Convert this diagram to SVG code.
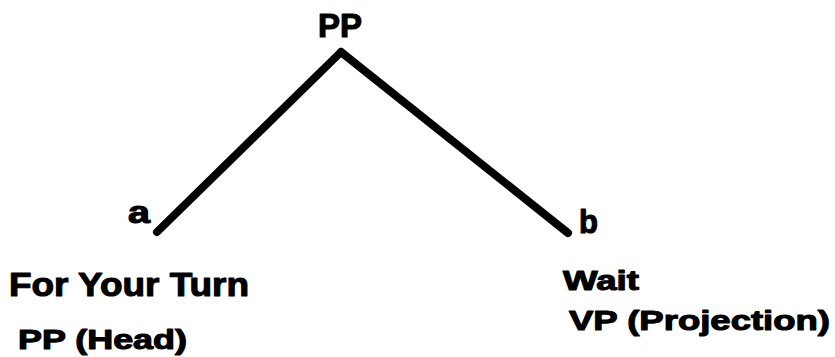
<svg xmlns="http://www.w3.org/2000/svg" width="835" height="357" viewBox="0 0 835 357">
<style>
text{font-family:"Liberation Sans",Arial,sans-serif;font-weight:bold;fill:#000;stroke:#000;stroke-width:1.1;stroke-linejoin:round}
.edge{stroke:#000;stroke-width:8;stroke-linecap:round;fill:none}
</style>
<rect width="835" height="357" fill="#fff"/>
<g id="connectors">
<line class="edge" x1="341" y1="52" x2="157" y2="232"/>
<line class="edge" x1="341" y1="52" x2="568" y2="233"/>
</g>
<g id="node-PP"><text x="318" y="37" font-size="33" textLength="44" lengthAdjust="spacingAndGlyphs">PP</text></g>
<g id="node-a"><text x="128" y="223" font-size="31" textLength="22" lengthAdjust="spacingAndGlyphs">a</text></g>
<g id="node-b"><text x="579" y="233" font-size="33" textLength="19" lengthAdjust="spacingAndGlyphs">b</text></g>
<g id="label-a">
<text x="9" y="296" font-size="33" textLength="240" lengthAdjust="spacingAndGlyphs">For Your Turn</text>
<text x="18" y="349" font-size="27" textLength="169" lengthAdjust="spacingAndGlyphs">PP (Head)</text>
</g>
<g id="label-b">
<text x="563" y="290" font-size="27" textLength="76" lengthAdjust="spacingAndGlyphs">Wait</text>
<text x="569" y="330" font-size="28" textLength="261" lengthAdjust="spacingAndGlyphs">VP (Projection)</text>
</g>
</svg>
